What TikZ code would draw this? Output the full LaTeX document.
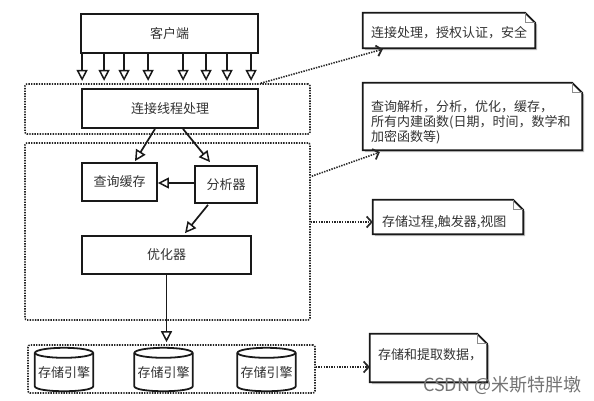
\documentclass[tikz,border=0pt]{standalone}
\usepackage{fontspec}
\setmainfont{Noto Sans CJK SC}
\usetikzlibrary{arrows.meta,calc}
\tikzset{
  box/.style={draw=black!90, line width=1.8pt, fill=white, inner sep=0pt, font=\fontsize{13pt}{15pt}\selectfont, text=black!80},
  grp/.style={draw=black!85, line width=1.6pt, dash pattern=on 1.4pt off 1.2pt, rounded corners=2pt, inner sep=0pt},
  tri/.style={draw=black!90, line width=1.7pt, -{Triangle[open, length=11pt, width=11pt, line width=1.5pt]}},
  dotarr/.style={draw=black!85, line width=1.6pt, dash pattern=on 1.4pt off 1.2pt, -{Straight Barb[length=5pt, width=11pt, line width=1.7pt]}},
  frame/.style={inner sep=0pt},
  notetext/.style={inner sep=0pt, anchor=west, align=left, text=black!80, font=\fontsize{13pt}{15pt}\selectfont},
  notedraw/.style={draw=black!90, line width=1.8pt, fill=white, line join=miter},
  cylnode/.style={inner sep=0pt, minimum width=58pt, minimum height=43pt, text=black!80, font=\fontsize{13pt}{15pt}\selectfont},
}
\begin{document}
\begin{tikzpicture}[x=1pt, y=-1pt]
\useasboundingbox (0,0) rectangle (594,401);

% dotted groups
\node[grp, minimum width=285pt, minimum height=50pt] (g1) at (167.5,109) {};
\node[grp, minimum width=285pt, minimum height=177pt] (g2) at (167.5,231.5) {};
\node[grp, minimum width=287pt, minimum height=48pt] (g3) at (171.5,369) {};

% boxes
\node[box, minimum width=177pt, minimum height=39pt] (client) at (169.5,33.5) {客户端};
\node[box, minimum width=176pt, minimum height=39pt] (conn) at (170,108.5) {连接线程处理};
\node[box, minimum width=75pt, minimum height=38pt] (cache) at (119.5,182) {查询缓存};
\node[box, minimum width=62pt, minimum height=37pt] (parser) at (226,184.5) {分析器};
\node[box, minimum width=169pt, minimum height=38pt] (opt) at (166.5,255) {优化器};

% client arrows
\foreach \dx in {2,24,44,68,103,126,147,171}{
  \draw[tri] ($(client.south west)+(\dx,0)$) -- ($(client.south west)+(\dx,27)$);
}

% internal arrows
\draw[tri] ($(conn.south)+(-15,0)$) -- ($(cache.north)+(15.5,-1)$);
\draw[tri] ($(conn.south)+(13,0)$) -- ($(parser.north)+(-16,-3)$);
\draw[tri] (parser.west |- 0,183) -- (cache.east |- 0,183);
\draw[tri] ($(parser.south)+(-18,1)$) -- ($(opt.north)+(18.5,-2)$);
\draw[tri] (opt.south) -- ($(opt.south |- g3.north)+(0,-2)$);

% cylinders
\foreach \n/\x in {s1/64,s2/163.5,s3/266.5}{
  \node[cylnode] (\n) at (\x,369.5) {\raisebox{-3pt}[\height][\depth]{存储引擎}};
  \draw[draw=black!90, line width=1.8pt] ($(\n.north west)+(0,5)$) -- ($(\n.south west)+(0,-5)$)
     .. controls +(0,6.7) and +(0,6.7) .. ($(\n.south east)+(0,-5)$) -- ($(\n.north east)+(0,5)$);
  \draw[draw=black!90, line width=1.8pt] ($(\n.north)+(0,5)$) ellipse [x radius=29pt, y radius=5pt];
}

% notes
\foreach \n/\cx/\cy/\w/\h in {n1/449/30.5/172/35, n2/472.5/116.5/219/67, n3/448/217/150/34, n4/428.5/358/117/48}{
  \node[frame, minimum width=\w pt, minimum height=\h pt] (\n) at (\cx,\cy) {};
  \fill[black!25] ($(\n.north west)+(2,2)$) -- ($(\n.north east)+(-8,2)$) -- ($(\n.north east)+(2,12)$) -- ($(\n.south east)+(2,2)$) -- ($(\n.south west)+(2,2)$) -- cycle;
  \draw[notedraw] (\n.north west) -- ($(\n.north east)+(-10,0)$) -- ($(\n.north east)+(0,10)$) -- (\n.south east) -- (\n.south west) -- cycle;
  \draw[black!45, line width=0.8pt] ($(\n.north east)+(-10,0)$) -- ($(\n.north east)+(-10,10)$) -- ($(\n.north east)+(0,10)$);
}
\node[notetext] (t1) at (371,33) {连接处理，授权认证，安全};
\node[notetext] (t2) at (371,122) {查询解析，分析，优化，缓存，\\所有内建函数(日期，时间，数学和\\加密函数等)};
\node[notetext] (t3) at (382,222) {存储过程,触发器,视图};
\node[notetext] (t4) at (378,355) {存储和提取数据，};

% dotted connectors
\draw[dotarr] ($(g1.north east)+(-50,0)$) -- ($(n1.south west)+(20,1)$);
\draw[dotarr] ($(g2.north east)+(1,34)$) -- ($(n2.south west)+(17,2)$);
\draw[dotarr] (g2.east |- 0,222) -- (n3.west |- 0,222);
\draw[dotarr] (g3.east |- 0,367) -- (n4.west |- 0,367);

% watermark
\node[inner sep=0pt, anchor=west, text=black!55, font=\fontsize{18pt}{20pt}\selectfont] (wm) at (423,385) {CSDN @米斯特胖墩};
\end{tikzpicture}
\end{document}
